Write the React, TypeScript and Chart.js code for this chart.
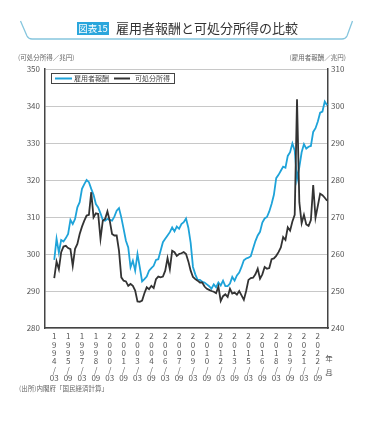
import React, { useEffect, useRef } from 'react';
import { Chart, registerables } from 'chart.js';

Chart.register(...registerables);

// 雇用者報酬 (兆円, right axis), quarterly 1994Q1 – 2023Q3
const compensation = [
  258.4, 264.1, 260.4, 263.8, 263.4, 264.3, 265.4, 269.2, 268.1, 269.5,
  272.6, 274.0, 277.6, 278.9, 280.0, 279.4, 277.6, 276.0, 273.5, 272.6,
  271.0, 269.2, 269.0, 269.5, 269.2, 269.0, 270.1, 271.7, 272.4, 269.9,
  266.8, 263.6, 261.8, 256.4, 258.2, 255.5, 260.0, 256.4, 252.6, 253.2,
  253.9, 255.5, 256.2, 256.8, 258.4, 258.6, 260.9, 263.2, 264.1, 265.0,
  265.9, 267.2, 266.1, 267.4, 266.8, 268.1, 268.6, 269.6, 267.1, 263.0,
  256.5, 254.5, 253.0, 253.0, 252.5, 252.3, 251.8, 251.3, 250.6, 251.8,
  251.0, 252.3, 251.5, 252.8, 251.3, 251.3, 252.0, 253.8, 252.8, 254.2,
  255.0, 256.5, 258.3, 258.8, 259.0, 259.4, 261.5, 263.5, 265.0, 266.0,
  268.5, 269.6, 270.0, 271.5, 273.5, 276.0, 280.5, 281.4, 282.5, 283.6,
  283.3, 286.5, 287.5, 289.9, 288.0, 280.2, 283.5, 287.5, 289.7, 288.5,
  289.0, 289.2, 293.0, 294.0, 295.8, 298.2, 298.5, 301.2, 300.2,
];

// 可処分所得 (兆円, left axis)
const disposableIncome = [
  293.5, 298.0, 295.9, 300.5, 302.0, 302.2, 301.6, 301.3, 296.8, 301.4,
  302.7, 305.4, 307.4, 309.0, 310.4, 310.6, 316.7, 309.9, 311.0, 310.8,
  304.1, 309.0, 309.5, 311.5, 309.0, 305.4, 305.0, 305.0, 300.9, 293.7,
  292.8, 292.6, 291.4, 291.9, 291.4, 290.1, 287.2, 287.1, 287.4, 289.4,
  291.0, 290.5, 291.4, 290.8, 293.2, 293.9, 293.7, 293.9, 295.5, 298.9,
  295.9, 300.9, 300.5, 299.5, 300.0, 300.2, 300.5, 300.0, 298.0, 295.5,
  293.8, 293.2, 292.8, 292.3, 292.3, 291.2, 290.6, 290.3, 290.0, 289.8,
  289.4, 291.2, 287.3, 288.6, 289.1, 288.4, 290.6, 289.3, 289.6, 289.0,
  290.0, 288.8, 287.6, 290.0, 293.0, 293.5, 293.6, 294.5, 296.0, 293.3,
  294.5, 296.5, 296.0, 296.2, 298.6, 298.8, 299.5, 300.5, 301.8, 304.6,
  303.8, 307.2, 306.3, 308.8, 310.6, 341.8, 314.0, 308.3, 310.6, 308.0,
  307.6, 309.2, 318.6, 309.8, 313.0, 316.3, 315.9, 315.2, 314.4,
];

const startYear = 1994;
const tickYears = ['1994', '1995', '1997', '1998', '2000', '2001', '2003', '2004', '2006', '2007',
  '2009', '2010', '2012', '2013', '2015', '2016', '2018', '2019', '2021', '2022'];
const tickMonths = ['03', '09', '03', '09', '03', '09', '03', '09', '03', '09',
  '03', '09', '03', '09', '03', '09', '03', '09', '03', '09'];

const leftAxisRange = [280, 350];
const rightAxisRange = [240, 310];

const titleBadge = '図表15';
const titleText = '雇用者報酬と可処分所得の比較';
const leftUnit = '(可処分所得／兆円)';
const rightUnit = '(雇用者報酬／兆円)';
const sourceText = '(出所)内閣府「国民経済計算」';
const seriesNames = ['雇用者報酬', '可処分所得'];
const colors = { blue: '#1ea3d9', black: '#333333' };

const FONT = "'Noto Sans CJK JP', 'Noto Sans', sans-serif";

const tickPositions = tickYears.map(
  (y, k) => (parseInt(y, 10) - startYear) * 4 + (parseInt(tickMonths[k], 10) - 3) / 3
);

const decorPlugin = {
  id: 'decor',
  afterDraw(chart: any) {
    const ctx = chart.ctx as CanvasRenderingContext2D;
    const area = chart.chartArea;
    ctx.save();
    // title decoration
    ctx.strokeStyle = '#86c6de';
    ctx.lineWidth = 1.3;
    ctx.beginPath();
    ctx.moveTo(20.5, 21);
    ctx.lineTo(27, 36);
    ctx.quadraticCurveTo(28.5, 39, 32, 39);
    ctx.lineTo(342, 39);
    ctx.quadraticCurveTo(345.5, 39, 347, 36);
    ctx.lineTo(352.5, 21);
    ctx.stroke();

    ctx.fillStyle = '#2aa6dc';
    ctx.fillRect(77, 22, 32, 13);
    ctx.fillStyle = '#ffffff';
    ctx.font = `9.5px ${FONT}`;
    ctx.textAlign = 'center';
    ctx.textBaseline = 'middle';
    ctx.fillText(titleBadge, 93, 28.5);

    ctx.fillStyle = '#333333';
    ctx.font = `13px ${FONT}`;
    ctx.textAlign = 'left';
    ctx.fillText(titleText, 116, 28.5);

    // axis units
    ctx.fillStyle = '#666666';
    ctx.font = `6.5px ${FONT}`;
    ctx.textAlign = 'left';
    ctx.fillText(leftUnit, 18, 57.5);
    ctx.textAlign = 'right';
    ctx.fillText(rightUnit, 346, 57.5);

    // source
    ctx.textAlign = 'left';
    ctx.fillText(sourceText, 19, 389);

    // (年/月) marker
    ctx.fillStyle = '#555555';
    ctx.font = `7px ${FONT}`;
    ctx.textAlign = 'center';
    const mx = area.right + 1;
    ctx.fillText('︵', mx, 354);
    ctx.fillText('年', mx, 358);
    ctx.fillText('月', mx, 372);
    ctx.fillText('︶', mx, 377);

    // legend
    const lx = area.left + 6;
    const ly = area.top + 4;
    ctx.fillStyle = '#ffffff';
    ctx.fillRect(lx + 0.5, ly + 0.5, 123, 10);
    ctx.strokeStyle = '#444444';
    ctx.lineWidth = 1;
    ctx.strokeRect(lx + 0.5, ly + 0.5, 123, 10);
    const cy = ly + 5.5;
    ctx.lineWidth = 2;
    ctx.strokeStyle = colors.blue;
    ctx.beginPath();
    ctx.moveTo(lx + 4, cy);
    ctx.lineTo(lx + 21, cy);
    ctx.stroke();
    ctx.strokeStyle = colors.black;
    ctx.beginPath();
    ctx.moveTo(lx + 63, cy);
    ctx.lineTo(lx + 79, cy);
    ctx.stroke();
    ctx.fillStyle = '#444444';
    ctx.font = `7px ${FONT}`;
    ctx.textAlign = 'left';
    ctx.fillText(seriesNames[0], lx + 23, cy);
    ctx.fillText(seriesNames[1], lx + 84, cy);
    ctx.restore();
  },
};

export default function App() {
  const ref = useRef<HTMLCanvasElement | null>(null);

  useEffect(() => {
    if (!ref.current) return;
    Chart.defaults.font.family = FONT;
    const chart = new Chart(ref.current, {
      type: 'line',
      data: {
        datasets: [
          {
            label: seriesNames[1],
            data: disposableIncome.map((v, i) => ({ x: i, y: v })),
            yAxisID: 'yL',
            borderColor: colors.black,
            borderWidth: 1.8,
            pointRadius: 0,
            tension: 0,
            order: 0,
          },
          {
            label: seriesNames[0],
            data: compensation.map((v, i) => ({ x: i, y: v })),
            yAxisID: 'yR',
            borderColor: colors.blue,
            borderWidth: 1.8,
            pointRadius: 0,
            tension: 0,
            order: 1,
          },
        ],
      },
      options: {
        animation: false,
        responsive: false,
        devicePixelRatio: 1,
        layout: { padding: { top: 69, left: 0, right: 0, bottom: 0 } },
        plugins: { legend: { display: false }, tooltip: { enabled: false }, title: { display: false } },
        scales: {
          x: {
            type: 'linear',
            min: -4,
            max: 118.4,
            grid: { display: false, drawTicks: false },
            border: { display: true, color: '#444444', width: 1.5 },
            ticks: {
              autoSkip: false,
              maxRotation: 0,
              minRotation: 0,
              padding: 4,
              color: '#555555',
              font: { size: 8, lineHeight: 1.05 },
              callback: (value: any) => {
                const k = tickPositions.indexOf(Number(value));
                if (k < 0) return '';
                return [...tickYears[k].split(''), '/', tickMonths[k]];
              },
            },
            afterBuildTicks: (scale: any) => {
              scale.ticks = tickPositions.map((v) => ({ value: v }));
            },
            afterFit: (scale: any) => {
              scale.height = 94;
            },
          },
          yL: {
            type: 'linear',
            position: 'left',
            min: leftAxisRange[0],
            max: leftAxisRange[1],
            ticks: { stepSize: 10, padding: 5, color: '#555555', font: { size: 8 } },
            grid: { color: '#c8c8c8', lineWidth: 1, drawTicks: false },
            border: { color: '#444444', width: 1.5 },
            afterFit: (scale: any) => {
              scale.width = 45;
            },
          },
          yR: {
            type: 'linear',
            position: 'right',
            min: rightAxisRange[0],
            max: rightAxisRange[1],
            ticks: { stepSize: 10, padding: 3, color: '#555555', font: { size: 8 } },
            grid: { display: false, drawTicks: false },
            border: { color: '#444444', width: 1.5 },
            afterFit: (scale: any) => {
              scale.width = 52;
            },
          },
        },
      },
      plugins: [decorPlugin],
    } as any);
    return () => chart.destroy();
  }, []);

  return (
    <div style={{ position: 'fixed', left: 0, top: 0, width: 380, height: 422, background: '#ffffff' }}>
      <canvas ref={ref} width={380} height={422} style={{ display: 'block' }} />
    </div>
  );
}
